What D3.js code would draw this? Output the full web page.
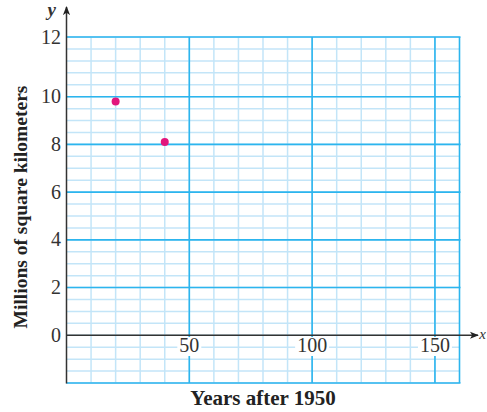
<!DOCTYPE html>
<html lang="en">
<head>
  <meta charset="UTF-8">
  <title>Millions of square kilometers</title>
  <script src="https://cdn.jsdelivr.net/npm/d3@7"></script>
  <style>
    body { margin: 0; background: #fff; }
    text { font-family: "Liberation Serif", "DejaVu Serif", serif; fill: #333; }
  </style>
</head>
<body>
  <div id="main"></div>
  <script>
    // data
    var years = [20, 40];          // years after 1950
    var area = [9.8, 8.1];         // millions of km²
    var xTicks = [50, 100, 150];
    var yTicks = [0, 2, 4, 6, 8, 10, 12];

    var width = 487, height = 412;

    var svg = d3.select("#main").append("svg")
      .attr("width", width)
      .attr("height", height);

    var x = d3.scaleLinear().domain([0, 160]).range([66.5, 459.5]);
    // the top band of the grid (10..12) is drawn taller in the original, so the scale is piecewise
    var y = d3.scaleLinear().domain([-2, 10, 12]).range([383, 96.7, 37]);

    var minorY = d3.range(-2, 10, 0.5).concat(d3.range(10, 12.01, 0.4));
    var minorX = d3.range(10, 160, 10);
    var majorY = [-2, 2, 4, 6, 8, 10, 12];
    var majorX = [50, 100, 150, 160];

    var grid = svg.append("g");

    // minor grid
    grid.selectAll(".minorH").data(minorY).enter().append("line")
      .attr("x1", x(0)).attr("x2", x(160))
      .attr("y1", function (d) { return y(d); })
      .attr("y2", function (d) { return y(d); })
      .attr("stroke", "#c3e5f8").attr("stroke-width", 1.5);
    grid.selectAll(".minorV").data(minorX).enter().append("line")
      .attr("y1", y(12)).attr("y2", y(-2))
      .attr("x1", function (d) { return x(d); })
      .attr("x2", function (d) { return x(d); })
      .attr("stroke", "#c3e5f8").attr("stroke-width", 1.5);

    // major grid
    grid.selectAll(".majorH").data(majorY).enter().append("line")
      .attr("x1", x(0)).attr("x2", x(160) + 1)
      .attr("y1", function (d) { return y(d); })
      .attr("y2", function (d) { return y(d); })
      .attr("stroke", "#2cb5ee").attr("stroke-width", 1.6);
    grid.selectAll(".majorV").data(majorX).enter().append("line")
      .attr("y1", y(12)).attr("y2", y(-2))
      .attr("x1", function (d) { return x(d); })
      .attr("x2", function (d) { return x(d); })
      .attr("stroke", "#2cb5ee").attr("stroke-width", 1.6);

    // arrow heads
    var defs = svg.append("defs");
    defs.append("marker")
      .attr("id", "arrow")
      .attr("viewBox", "0 0 10 10")
      .attr("refX", 9).attr("refY", 5)
      .attr("markerWidth", 9).attr("markerHeight", 9)
      .attr("markerUnits", "userSpaceOnUse")
      .attr("orient", "auto")
      .append("path")
      .attr("d", "M0,1 L10,5 L0,9 L2.5,5 z")
      .attr("fill", "#222");

    // x axis
    svg.append("line")
      .attr("x1", x(0)).attr("x2", 478)
      .attr("y1", y(0)).attr("y2", y(0))
      .attr("stroke", "#333").attr("stroke-width", 1.5)
      .attr("marker-end", "url(#arrow)");
    // y axis
    svg.append("line")
      .attr("x1", x(0)).attr("x2", x(0))
      .attr("y1", y(-2) + 0.5).attr("y2", 7)
      .attr("stroke", "#333").attr("stroke-width", 1.5)
      .attr("marker-end", "url(#arrow)");

    svg.append("text")
      .attr("x", 486).attr("y", y(0) + 4)
      .attr("text-anchor", "end")
      .style("font-style", "italic").style("font-size", "15px")
      .text("x");
    svg.append("text")
      .attr("x", 56).attr("y", 16)
      .attr("text-anchor", "end")
      .style("font-style", "italic").style("font-size", "19px")
      .style("font-weight", "bold")
      .text("y");

    // y tick labels
    svg.selectAll(".ytick").data(yTicks).enter().append("text")
      .attr("x", 61)
      .attr("y", function (d) { return y(d) + 6.5; })
      .attr("text-anchor", "end")
      .style("font-size", "20px")
      .text(function (d) { return d; });

    // x tick labels with white backing
    var xt = svg.selectAll(".xtick").data(xTicks).enter().append("g")
      .attr("transform", function (d) { return "translate(" + x(d) + "," + 352 + ")"; });
    xt.append("rect")
      .attr("x", function (d) { return -String(d).length * 5 - 2; })
      .attr("y", -15)
      .attr("width", function (d) { return String(d).length * 10 + 4; })
      .attr("height", 19)
      .attr("fill", "#fff");
    xt.append("text")
      .attr("text-anchor", "middle")
      .style("font-size", "20px")
      .text(function (d) { return d; });

    // points
    svg.selectAll(".pt").data(years).enter().append("circle")
      .attr("cx", function (d) { return x(d); })
      .attr("cy", function (d, i) { return y(area[i]); })
      .attr("r", 4)
      .attr("fill", "#e2157c");

    // axis titles
    svg.append("text")
      .attr("x", 263).attr("y", 405)
      .attr("text-anchor", "middle")
      .style("font-size", "21px").style("font-weight", "bold")
      .style("fill", "#222")
      .text("Years after 1950");
    svg.append("text")
      .attr("transform", "translate(27,207) rotate(-90)")
      .attr("text-anchor", "middle")
      .style("font-size", "19.5px").style("font-weight", "bold")
      .style("fill", "#222")
      .text("Millions of square kilometers");
  </script>
</body>
</html>
